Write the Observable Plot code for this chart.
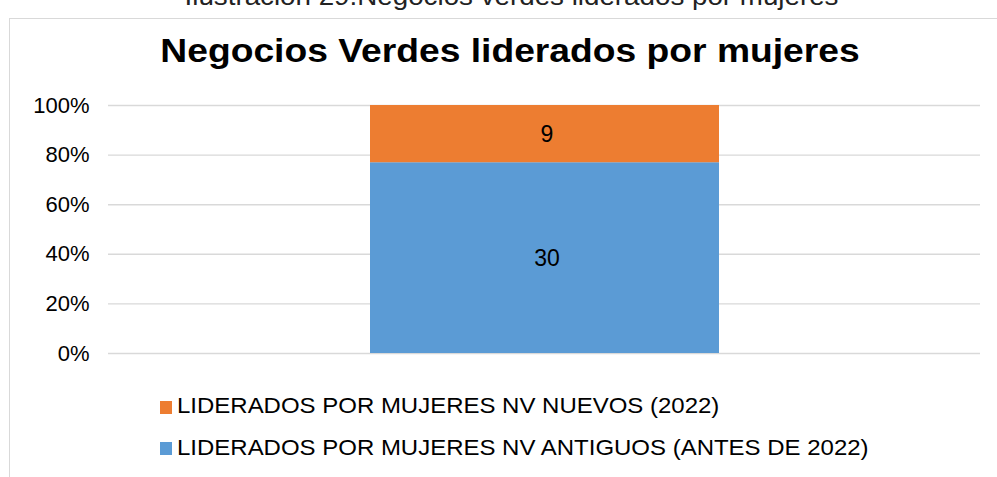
<!DOCTYPE html>
<html>
<head>
<meta charset="utf-8">
<script src="https://cdn.jsdelivr.net/npm/d3@7"></script>
<script src="https://cdn.jsdelivr.net/npm/@observablehq/plot@0.6"></script>
<style>
  html, body { margin: 0; padding: 0; background: #fff; }
  body { width: 997px; height: 477px; position: relative; overflow: hidden; font-family: "Liberation Sans", Arial, sans-serif; }
  #caption { position: absolute; left: 0; width: 1023px; text-align: center; top: -16px; font-size: 25px; line-height: 1; transform: scaleX(1.11); transform-origin: 511.5px 0; color: #222; white-space: nowrap; }
  #frame { position: absolute; left: 9px; top: 18px; width: 1100px; height: 600px; border-left: 1px solid #d9d9d9; border-top: 1px solid #d9d9d9; }
  #title { position: absolute; left: 0; width: 1020px; text-align: center; top: 33px; font-size: 34px; line-height: 1; transform: scaleX(1.095); transform-origin: 510px 0; font-weight: bold; color: #000; white-space: nowrap; }
  #chart { position: absolute; left: 0; top: 0; }
  .legtxt { position: absolute; left: 177px; font-size: 22px; line-height: 1; transform: scaleX(1.09); transform-origin: 0 0; color: #000; white-space: nowrap; }
  .sw { position: absolute; left: 160px; width: 12px; height: 12.5px; }
</style>
</head>
<body>
<div id="caption">Ilustración 29.Negocios verdes liderados por mujeres</div>
<div id="frame"></div>
<div id="chart"></div>
<div id="title">Negocios Verdes liderados por mujeres</div>
<div id="legend"></div>
<script>
const categories = ["Negocios Verdes"];
const seriesNames = ["LIDERADOS POR MUJERES NV ANTIGUOS (ANTES DE 2022)", "LIDERADOS POR MUJERES NV NUEVOS (2022)"];
const seriesValues = [30, 9];
const seriesColors = ["#5B9BD5", "#ED7D31"];
const yTicks = [0, 0.2, 0.4, 0.6, 0.8, 1.0];
const yTickLabels = ["0%", "20%", "40%", "60%", "80%", "100%"];

const data = seriesNames.map((s, i) => ({cat: categories[0], series: s, value: seriesValues[i], order: i}));

const chart = Plot.plot({
  width: 997,
  height: 477,
  marginTop: 105,
  marginBottom: 124,
  marginLeft: 108,
  marginRight: 17,
  style: {fontFamily: "Liberation Sans, Arial, sans-serif", fontSize: "22px", background: "transparent", color: "#000"},
  x: {domain: categories, padding: 0.4286, axis: null},
  y: {domain: [0, 1], ticks: yTicks, label: null, axis: null},
  color: {domain: seriesNames, range: seriesColors},
  marks: [
    Plot.gridY(yTicks, {stroke: "#d9d9d9", strokeOpacity: 1, strokeWidth: 1.4}),
    Plot.barY(data, Plot.stackY({x: "cat", y: "value", fill: "series", offset: "normalize", order: "order"})),
    Plot.text(data, Plot.stackY({x: "cat", y: "value", offset: "normalize", order: "order", text: (d) => String(d.value), fill: "#000", fontSize: 23, dx: 2, dy: 1})),
    Plot.axisY(yTicks, {tickSize: 0, tickPadding: 19, tickFormat: (d) => yTickLabels[yTicks.indexOf(d)], fontSize: 22, fill: "#000", label: null, style: {letterSpacing: "1.2px"}})
  ]
});
document.getElementById("chart").appendChild(chart);

const legend = document.getElementById("legend");
const order = [1, 0];
const textTops = [395.4, 437.1];
const swTops = [401.2, 442.4];
order.forEach((idx, k) => {
  const sw = document.createElement("div");
  sw.className = "sw";
  sw.style.top = swTops[k] + "px";
  sw.style.background = seriesColors[idx];
  legend.appendChild(sw);
  const t = document.createElement("div");
  t.className = "legtxt";
  t.style.top = textTops[k] + "px";
  t.textContent = seriesNames[idx];
  legend.appendChild(t);
});
</script>
</body>
</html>
